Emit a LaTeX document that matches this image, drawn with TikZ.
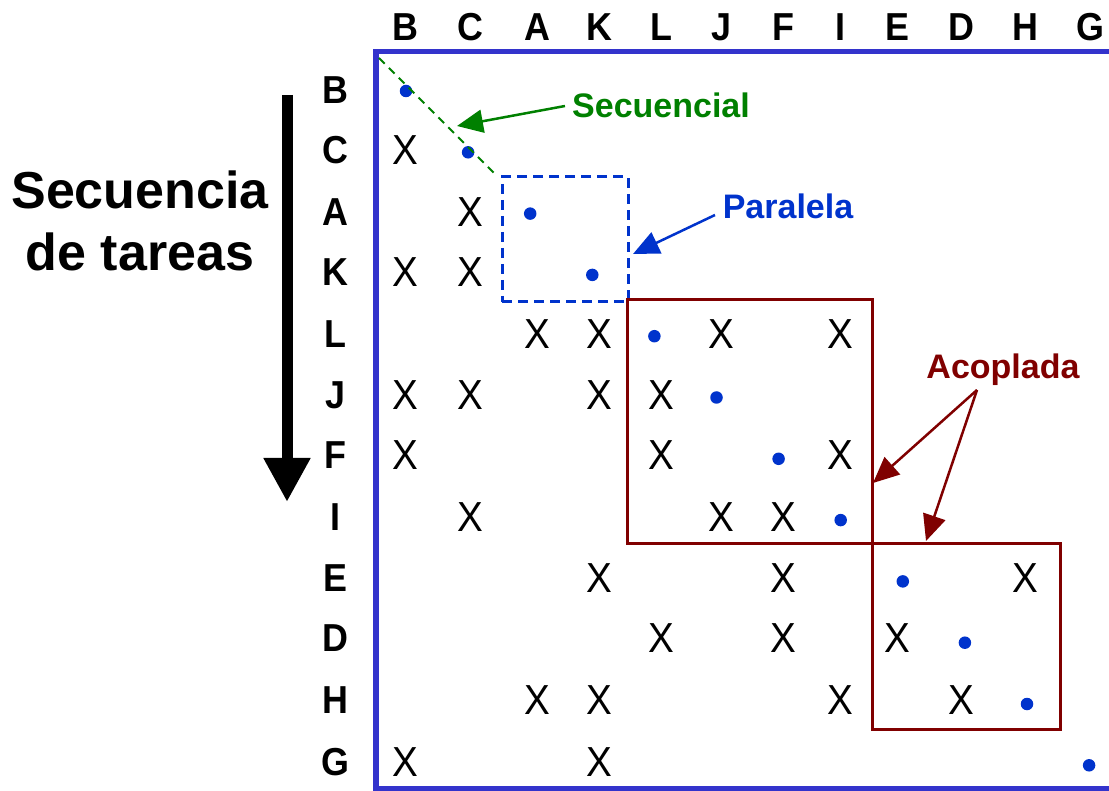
\documentclass[tikz,border=0pt]{standalone}
\usepackage{fontspec}
\setmainfont{Liberation Sans}
\usetikzlibrary{arrows.meta}
\definecolor{frameblue}{RGB}{51,51,204}
\definecolor{dotblue}{RGB}{0,51,204}
\definecolor{seqgreen}{RGB}{0,128,0}
\definecolor{cplred}{RGB}{128,0,0}
\begin{document}
\begin{tikzpicture}[x=1pt,y=-1pt,
  hdr/.style={font=\fontsize{39}{47}\selectfont\bfseries, inner sep=0pt, xscale=0.92},
  xmk/.style={font=\fontsize{42}{50}\selectfont, inner sep=0pt, xscale=0.92},
  dotm/.style={circle, fill=dotblue, minimum size=12.5pt, inner sep=0pt},
  lbl/.style={font=\fontsize{34}{40}\selectfont\bfseries, inner sep=0pt},
  bigtxt/.style={font=\fontsize{52}{62}\selectfont\bfseries, inner sep=0pt},
  callout/.style={line width=2.5pt, -{Triangle[length=26pt,width=23pt]}},
]
\useasboundingbox (0,0) rectangle (1109,791);
\fill[white] (0,0) rectangle (1109,791);

% column and row positions
\foreach \n/\x in {B/405,C/470,A/537,K/599,L/661,J/721,F/783,I/840,E/897,D/961,H/1025,G/1090}
  \coordinate (c\n) at (\x,0);
\foreach \n/\y in {B/90,C/150,A/212,K/272,L/334,J/395,F/455,I/517,E/578,D/638,H/700,G/762}
  \coordinate (r\n) at (0,\y);

% headers
\foreach \n in {B,C,A,K,L,J,F,I,E,D,H,G}{
  \node[hdr] (h\n) at (c\n |- 0,27) {\n};
  \node[hdr] (v\n) at (335,0 |- r\n) {\n};
}

% frame
\draw[frameblue, line width=5.5pt] (376,51.5) rectangle (1125,788.5);

% diagonal dots
\foreach \n [count=\i from 0] in {B,C,A,K,L,J,F,I,E,D,H,G}
  \node[dotm] (d\n) at ({406+62.1*\i},{91+61.3*\i}) {};

% X marks
\foreach \r/\c in {C/B, A/C, K/B, K/C, L/A, L/K, L/J, L/I, J/B, J/C, J/K, J/L,
  F/B, F/L, F/I, I/C, I/J, I/F, E/K, E/F, E/H, D/L, D/F, D/E, H/A, H/K, H/I, H/D, G/B, G/K}
  \node[xmk] (x\r\c) at (c\c |- r\r) {X};

% sequential
\coordinate (sq1) at (379,58);
\coordinate (sq2) at (497,176);
\draw[seqgreen, line width=2pt, dash pattern=on 8pt off 6pt] (sq1) -- (sq2);
\node[lbl, text=seqgreen, anchor=west] (seq) at (572,105) {Secuencial};
\coordinate (sqtip) at (457,126);
\draw[seqgreen, callout] (565,106) coordinate (sqs) -- (sqtip);

% parallel
\node[draw=dotblue, line width=3pt, dash pattern=on 10pt off 6pt, minimum width=126pt, minimum height=125pt, inner sep=0pt] (par) at (565,239.5) {};
\node[lbl, text=dotblue] (parl) at (788,206) {Paralela};
\coordinate (ptip) at (633,254);
\draw[dotblue, callout] (715,215) coordinate (ps) -- (ptip);

% coupled
\node[draw=cplred, line width=3pt, minimum width=245pt, minimum height=243pt, inner sep=0pt] (cp1) at (749.5,421.5) {};
\node[draw=cplred, line width=3pt, minimum width=188pt, minimum height=186pt, inner sep=0pt] (cp2) at (966,636) {};
\node[lbl, text=cplred] (acop) at (1003,370) {Acoplada};
\coordinate (ac) at (977,390);
\coordinate (at1) at (873,483);
\coordinate (at2) at (926,541);
\draw[cplred, callout] (ac) -- (at1);
\draw[cplred, callout] (ac) -- (at2);

% task sequence
\node[bigtxt] (t1) at (140,190) {Secuencia};
\node[bigtxt] (t2) at (140,252) {de tareas};
\coordinate (ar1) at (287,95);
\coordinate (ar2) at (287,502);
\draw[line width=11pt, -{Triangle[length=44pt,width=44pt]}] (ar1) -- (ar2);
\end{tikzpicture}
\end{document}
